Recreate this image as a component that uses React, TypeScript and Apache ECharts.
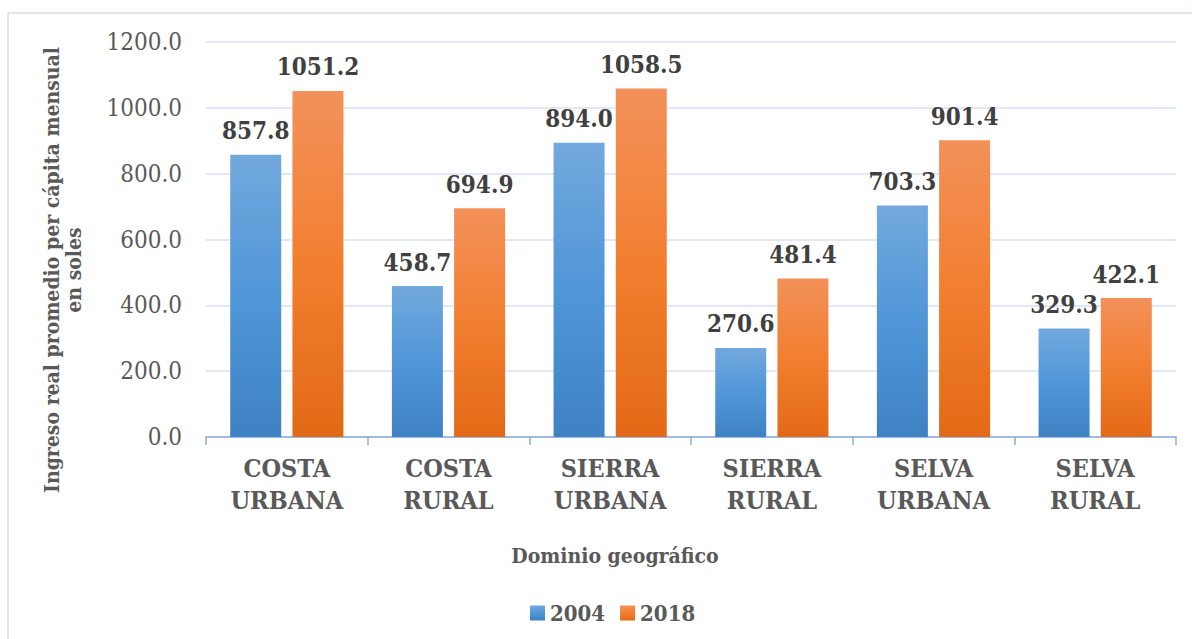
import React, { useEffect, useRef } from "react";
import * as echarts from "echarts";

const categories = [
  "COSTA\nURBANA",
  "COSTA\nRURAL",
  "SIERRA\nURBANA",
  "SIERRA\nRURAL",
  "SELVA\nURBANA",
  "SELVA\nRURAL",
];
const values2004 = [857.8, 458.7, 894.0, 270.6, 703.3, 329.3];
const values2018 = [1051.2, 694.9, 1058.5, 481.4, 901.4, 422.1];
const seriesNames = ["2004", "2018"];
const yTitle = "Ingreso real promedio per cápita mensual\nen soles";
const xTitle = "Dominio geográfico";

const FONT = "DejaVu Serif Condensed";

export default function App() {
  const ref = useRef<HTMLDivElement>(null);
  useEffect(() => {
    if (!ref.current) return;
    const chart = echarts.init(ref.current, null, { renderer: "svg" });
    const blue = new echarts.graphic.LinearGradient(0, 0, 0, 1, [
      { offset: 0, color: "#72a9dd" },
      { offset: 0.5, color: "#5096d8" },
      { offset: 1, color: "#3e82c4" },
    ]);
    const orange = new echarts.graphic.LinearGradient(0, 0, 0, 1, [
      { offset: 0, color: "#f3915a" },
      { offset: 0.5, color: "#f27f30" },
      { offset: 1, color: "#e36916" },
    ]);
    const labelStyle = {
      show: true,
      position: "top",
      distance: 12,
      fontFamily: FONT,
      fontWeight: "bold",
      fontSize: 24,
      color: "#404040",
      formatter: (p: any) => Number(p.value).toFixed(1),
    };
    chart.setOption({
      animation: false,
      backgroundColor: "#ffffff",
      textStyle: { fontFamily: FONT },
      grid: { left: 206, right: 16, top: 42, height: 395 },
      graphic: [
        {
          type: "rect",
          shape: { x: 8, y: 13, width: 1200, height: 640 },
          style: { fill: "none", stroke: "#d9dfe8", lineWidth: 1.5 },
          silent: true,
        },
        {
          type: "text",
          x: 62,
          y: 270,
          rotation: Math.PI / 2,
          style: {
            text: yTitle,
            fontFamily: FONT,
            fontWeight: "bold",
            fontSize: 21,
            lineHeight: 22,
            fill: "#595959",
            textAlign: "center",
            textVerticalAlign: "middle",
          },
        },
        {
          type: "text",
          x: 615,
          y: 555,
          style: {
            text: xTitle,
            fontFamily: FONT,
            fontWeight: "bold",
            fontSize: 21,
            fill: "#595959",
            textAlign: "center",
            textVerticalAlign: "middle",
          },
        },
      ],
      legend: {
        data: seriesNames,
        left: 525,
        top: 597,
        itemWidth: 15,
        itemHeight: 15,
        itemGap: 15,
        icon: "rect",
        textStyle: {
          fontFamily: FONT,
          fontWeight: "bold",
          fontSize: 22,
          color: "#595959",
        },
      },
      xAxis: {
        type: "category",
        data: categories,
        axisLine: { lineStyle: { color: "#8eaadb", width: 1.5 } },
        axisTick: {
          show: true,
          length: 8,
          alignWithLabel: false,
          lineStyle: { color: "#8eaadb", width: 1.5 },
        },
        axisLabel: {
          margin: 15,
          fontFamily: FONT,
          fontWeight: "bold",
          fontSize: 25,
          lineHeight: 32,
          color: "#595959",
          interval: 0,
        },
      },
      yAxis: {
        type: "value",
        min: 0,
        max: 1200,
        interval: 200,
        axisLine: { show: false },
        axisTick: { show: false },
        splitLine: { lineStyle: { color: "#d9e1f2", width: 1.5 } },
        axisLabel: {
          margin: 24,
          fontFamily: FONT,
          fontSize: 24,
          color: "#595959",
          formatter: (v: number) => v.toFixed(1),
        },
      },
      series: [
        {
          name: seriesNames[0],
          type: "bar",
          data: values2004,
          barWidth: 51,
          barGap: "22%",
          itemStyle: { color: blue },
          label: labelStyle,
        },
        {
          name: seriesNames[1],
          type: "bar",
          data: values2018,
          barWidth: 51,
          barGap: "22%",
          itemStyle: { color: orange },
          label: labelStyle,
        },
      ],
    });
    return () => chart.dispose();
  }, []);
  return (
    <div
      ref={ref}
      style={{ position: "absolute", left: 0, top: 0, width: 1192, height: 639 }}
    />
  );
}
